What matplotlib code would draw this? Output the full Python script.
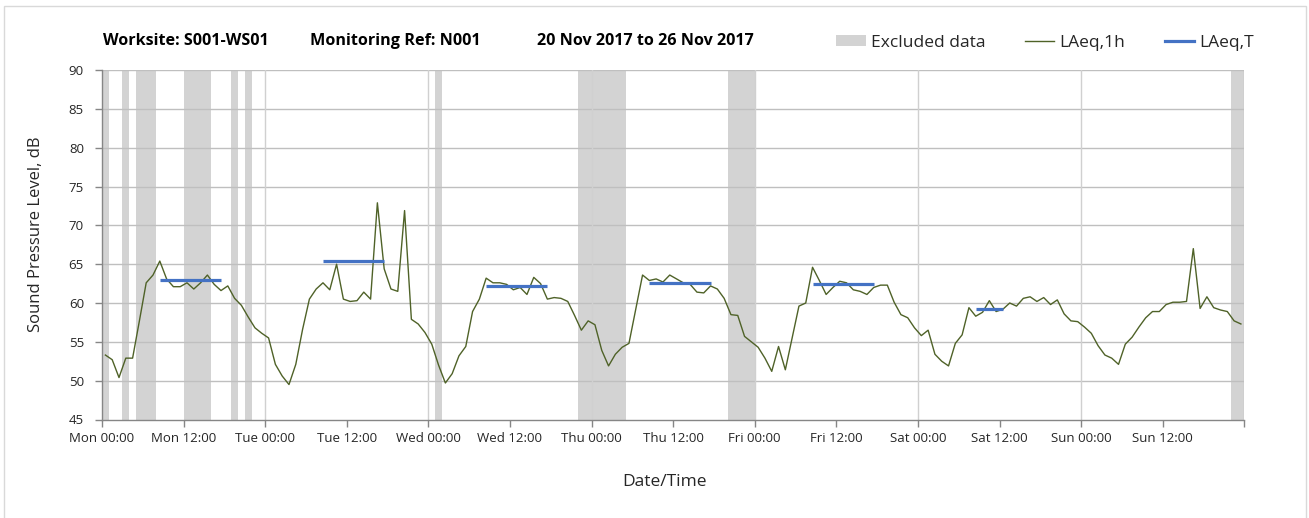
import numpy as np
import matplotlib
matplotlib.use("Agg")
import matplotlib.pyplot as plt
from matplotlib.patches import Patch, Rectangle
from matplotlib.lines import Line2D

# ---------------- data ----------------
# hourly LAeq,1h values (dB), Mon 00:00 .. Sun 23:00 (168 hours)
laeq_1h = [
    53.3, 52.7, 50.4, 52.9, 52.9, 57.7, 62.6, 63.6, 65.4, 63.1, 62.1, 62.1,
    62.6, 61.8, 62.6, 63.6, 62.4, 61.6, 62.2, 60.6, 59.7, 58.2, 56.8, 56.1,
    55.5, 52.1, 50.6, 49.5, 52.1, 56.6, 60.5, 61.8, 62.6, 61.7, 65.0, 60.5,
    60.2, 60.3, 61.4, 60.5, 72.9, 64.4, 61.8, 61.5, 71.9, 57.9, 57.3, 56.2,
    54.7, 52.0, 49.7, 50.9, 53.2, 54.4, 58.9, 60.5, 63.2, 62.6, 62.6, 62.4,
    61.7, 62.0, 61.1, 63.3, 62.5, 60.5, 60.7, 60.6, 60.2, 58.4, 56.5, 57.7,
    57.2, 53.9, 51.9, 53.4, 54.3, 54.8, 59.2, 63.6, 62.9, 63.1, 62.7, 63.6,
    63.1, 62.6, 62.4, 61.4, 61.3, 62.2, 61.8, 60.6, 58.5, 58.4, 55.7, 55.0,
    54.3, 52.9, 51.2, 54.4, 51.4, 55.5, 59.6, 60.0, 64.6, 62.9, 61.1, 62.0,
    62.8, 62.6, 61.7, 61.5, 61.1, 62.0, 62.3, 62.3, 60.1, 58.5, 58.1, 56.8,
    55.8, 56.5, 53.4, 52.5, 51.9, 54.8, 55.9, 59.4, 58.3, 58.8, 60.3, 58.9,
    59.2, 60.0, 59.6, 60.6, 60.8, 60.2, 60.7, 59.8, 60.4, 58.6, 57.7, 57.6,
    56.9, 56.1, 54.5, 53.3, 52.9, 52.1, 54.7, 55.6, 56.9, 58.1, 58.9, 58.9,
    59.8, 60.1, 60.1, 60.2, 67.0, 59.3, 60.8, 59.4, 59.1, 58.9, 57.7, 57.3,
]

# excluded periods (start hour, end hour) from Mon 00:00
excl_start = [0, 3, 5, 12, 19, 21, 49, 70, 92, 166]
excl_end   = [1, 4, 8, 16, 20, 22, 50, 77, 96, 168]

# LAeq,T periods: first hour index, last hour index, level
lt_first = [8, 32, 56, 80, 104, 128]
lt_last  = [17, 41, 65, 89, 113, 132]
lt_value = [63.0, 65.4, 62.2, 62.6, 62.4, 59.2]

days = ["Mon", "Tue", "Wed", "Thu", "Fri", "Sat", "Sun"]
tick_labels = [f"{d} {t}" for d in days for t in ("00:00", "12:00")] + [""]

# ---------------- style ----------------
FONT = "Open Sans"
plt.rcParams["font.family"] = [FONT, "DejaVu Sans"]

GREEN = "#4F6228"
BLUE = "#4472C4"
BAND = "#D3D3D3"
GRID_H = "#BFBFBF"
GRID_V = "#D0D0D0"
AXIS = "#868686"
TXT = "#262626"

W, H = 1309, 518
fig = plt.figure(figsize=(W / 100, H / 100), dpi=100)
fig.patch.set_facecolor("white")

# outer chart border
fig.patches.append(Rectangle((3.5 / W, -0.05), (1306 - 3.5) / W, 1.05 - 5.5 / H,
                             transform=fig.transFigure, fill=False,
                             edgecolor="#D9D9D9", linewidth=1.0))

ax = fig.add_axes([102 / W, 1 - 419.5 / H, (1244.3 - 102) / W, (419.5 - 70) / H])

hours = np.arange(len(laeq_1h)) + 0.5

# excluded bands
for s, e in zip(excl_start, excl_end):
    ax.axvspan(s, e, color=BAND, lw=0, zorder=1)

# grid (drawn over the bands, under the data)
for yv in range(50, 91, 5):
    ax.axhline(yv, color=GRID_H, lw=1.0, zorder=2)
for d in range(1, 8):
    ax.axvline(d * 24, color=GRID_V if d < 7 else GRID_H, lw=1.0, zorder=2)

ax.plot(hours, laeq_1h, color=GREEN, lw=1.0, zorder=3)
for f, l, v in zip(lt_first, lt_last, lt_value):
    ax.plot(hours[f:l + 1], [v] * (l - f + 1), color=BLUE, lw=2.3,
            solid_capstyle="butt", zorder=4)

ax.set_xlim(0, 168)
ax.set_ylim(45, 90)
ax.set_xticks(np.arange(0, 169, 12))
ax.set_xticklabels(tick_labels)
ax.set_yticks(np.arange(45, 91, 5))
ax.tick_params(axis="both", colors=AXIS, labelcolor=TXT, labelsize=9.5,
               length=5, width=1.0, direction="out")
ax.tick_params(axis="x", pad=4)
ax.tick_params(axis="y", pad=8)
for side in ("top", "right"):
    ax.spines[side].set_visible(False)
for side in ("left", "bottom"):
    ax.spines[side].set_color(AXIS)
    ax.spines[side].set_linewidth(1.0)
    ax.spines[side].set_zorder(5)
ax.set_facecolor("white")

fig.text(36 / W, 1 - 234 / H, "Sound Pressure Level, dB", rotation=90,
         ha="center", va="center", fontsize=12, color=TXT)
fig.text(664 / W, 1 - 482 / H, "Date/Time", ha="center", va="center",
         fontsize=12.5, color=TXT)

# title
ty = 1 - 41 / H
fig.text(103 / W, ty, "Worksite: S001-WS01", ha="left", va="center",
         fontsize=11.6, fontweight="bold", color="black")
fig.text(310 / W, ty, "Monitoring Ref: N001", ha="left", va="center",
         fontsize=11.6, fontweight="bold", color="black")
fig.text(537 / W, ty, "20 Nov 2017 to 26 Nov 2017", ha="left", va="center",
         fontsize=11.6, fontweight="bold", color="black")

handles = [Patch(facecolor=BAND, edgecolor="none", label="Excluded data"),
           Line2D([], [], color=GREEN, lw=1.0, label="LAeq,1h"),
           Line2D([], [], color=BLUE, lw=2.3, label="LAeq,T")]
fig.legend(handles=handles, ncol=3, frameon=False, loc="center right",
           bbox_to_anchor=(1254 / W, 1 - 43 / H), fontsize=12.5,
           handlelength=1.7, handleheight=0.6, handletextpad=0.3,
           columnspacing=2.26, labelcolor=TXT, borderaxespad=0, borderpad=0)

fig.savefig("out.png", dpi=100)
